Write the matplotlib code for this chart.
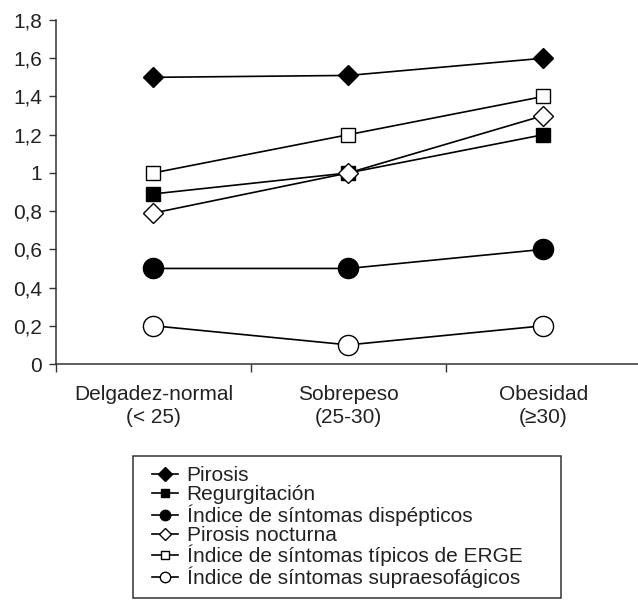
import matplotlib
matplotlib.use("Agg")
import matplotlib.pyplot as plt
from matplotlib.lines import Line2D
from matplotlib.legend_handler import HandlerLine2D

plt.rcParams['font.family'] = ['Liberation Sans', 'DejaVu Sans']

categories = ["Delgadez-normal\n(< 25)", "Sobrepeso\n(25-30)", "Obesidad\n(≥30)"]
series_names = [
    "Pirosis",
    "Regurgitación",
    "Índice de síntomas dispépticos",
    "Pirosis nocturna",
    "Índice de síntomas típicos de ERGE",
    "Índice de síntomas supraesofágicos",
]
pirosis = [1.50, 1.51, 1.60]
regurgitacion = [0.89, 1.00, 1.20]
dispepticos = [0.50, 0.50, 0.60]
pirosis_nocturna = [0.79, 1.00, 1.30]
tipicos_erge = [1.00, 1.20, 1.40]
supraesofagicos = [0.20, 0.10, 0.20]
y_ticks = [0, 0.2, 0.4, 0.6, 0.8, 1.0, 1.2, 1.4, 1.6, 1.8]
y_tick_labels = ["0", "0,2", "0,4", "0,6", "0,8", "1", "1,2", "1,4", "1,6", "1,8"]

values = [pirosis, regurgitacion, dispepticos, pirosis_nocturna, tipicos_erge, supraesofagicos]
styles = [
    dict(marker='D', mfc='black', ms=10.5, leg_ms=6.8),
    dict(marker='s', mfc='black', ms=10, leg_ms=5.6),
    dict(marker='o', mfc='black', ms=14.5, leg_ms=7.5),
    dict(marker='D', mfc='white', ms=10, leg_ms=6.5),
    dict(marker='s', mfc='white', ms=10, leg_ms=5.6),
    dict(marker='o', mfc='white', ms=14.5, leg_ms=7.5),
]


class OffsetHandler(HandlerLine2D):
    def create_artists(self, legend, orig_handle, xdescent, ydescent, width, height,
                       fontsize, trans):
        off = 0.41 * fontsize
        return super().create_artists(legend, orig_handle, xdescent - off, ydescent,
                                      width - off, height, fontsize, trans)


fig = plt.figure(figsize=(6.38, 6.0), dpi=100)
ax = fig.add_axes([56/638, 1-364/600, 585/638, 344/600])

x = list(range(len(categories)))
text_color = '#222222'
handles = []
for name, vals, st in zip(series_names, values, styles):
    ax.plot(x, vals, color='black', lw=1.2, marker=st['marker'], markersize=st['ms'],
            markerfacecolor=st['mfc'], markeredgecolor='black', markeredgewidth=1.0,
            clip_on=False, zorder=3)
    handles.append(Line2D([0], [0], color='black', lw=1.2, marker=st['marker'],
                          markersize=st['leg_ms'], markerfacecolor=st['mfc'],
                          markeredgecolor='black', markeredgewidth=1.0, label=name))

ax.set_xlim(-0.5, 2.5)
ax.set_ylim(0, 1.8)
ax.set_yticks(y_ticks)
ax.set_yticklabels(y_tick_labels)
ax.set_xticks([-0.5, 0.5, 1.5, 2.5])
ax.set_xticklabels([])
ax.set_xticks(x, minor=True)
ax.set_xticklabels(categories, minor=True)
ax.tick_params(axis='x', which='minor', length=0, pad=15, labelsize=15, labelcolor=text_color)
ax.tick_params(axis='x', which='major', length=6, width=1, color='#333333', direction='out')
ax.tick_params(axis='y', length=5, width=1, color='#333333', direction='out', pad=5,
               labelsize=15, labelcolor=text_color)
for lbl in ax.get_xticklabels(minor=True):
    lbl.set_linespacing(1.3)

for s in ['top', 'right']:
    ax.spines[s].set_visible(False)
for s in ['left', 'bottom']:
    ax.spines[s].set_color('#333333')
    ax.spines[s].set_linewidth(1.1)

leg = fig.legend(handles=handles, loc='upper left',
                 bbox_to_anchor=(133/638, 1-456/600, (561-133)/638, 0.0),
                 mode='expand', frameon=True, fancybox=False, framealpha=1,
                 edgecolor='#333333', fontsize=15, labelspacing=0.0,
                 handlelength=1.66, handletextpad=0.42, borderpad=0.5,
                 borderaxespad=0.0, labelcolor=text_color,
                 handler_map={Line2D: OffsetHandler()})
leg.get_frame().set_linewidth(1.1)

fig.savefig("out.png", dpi=100)
